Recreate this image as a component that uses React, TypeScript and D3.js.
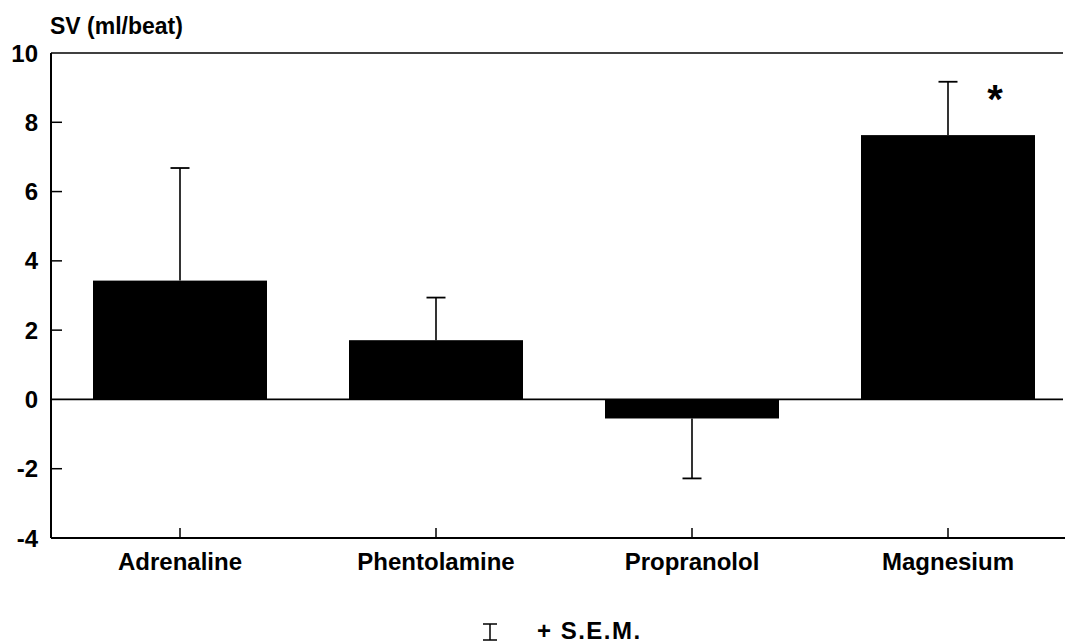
import React from "react";
import * as d3 from "d3";

const categories = ["Adrenaline", "Phentolamine", "Propranolol", "Magnesium"];
const means = [3.43, 1.71, -0.55, 7.63];
const sems = [3.25, 1.23, 1.73, 1.54];
const significant = [false, false, false, true];
const yTicks = [-4, -2, 0, 2, 4, 6, 8, 10];

const W = 1065;
const H = 643;
const FONT = "'Liberation Sans', Arial, Helvetica, sans-serif";

export default function App() {
  const y = d3.scaleLinear().domain([-4, 10]).range([538, 53]);
  const x = d3.scaleBand<string>().domain(categories).range([52, 1076]).padding(0);
  const bw = 174;
  const axisX = 51;
  const capW = 19;

  return (
    <svg
      width={W}
      height={H}
      style={{ position: "absolute", left: 0, top: 0, background: "#fff" }}
      fontFamily={FONT}
    >
      <rect x={0} y={0} width={W} height={H} fill="#fff" />
      {/* title */}
      <text x={50} y={34} fontSize={23} fontWeight="bold" fill="#000">
        SV (ml/beat)
      </text>
      {/* frame lines */}
      <line x1={axisX} x2={1063} y1={y(10)} y2={y(10)} stroke="#000" strokeWidth={1.5} />
      <line x1={axisX} x2={W} y1={y(-4)} y2={y(-4)} stroke="#000" strokeWidth={1.8} />
      <line x1={axisX} x2={axisX} y1={y(10)} y2={y(-4)} stroke="#000" strokeWidth={2} />
      {/* y ticks */}
      {yTicks.map((t) => (
        <g key={t}>
          {t !== 10 && t !== -4 && t !== 0 && (
            <line x1={axisX} x2={axisX + 11} y1={y(t)} y2={y(t)} stroke="#000" strokeWidth={1.5} />
          )}
          <text
            x={38}
            y={y(t)}
            dy="0.36em"
            textAnchor="end"
            fontSize={24}
            fontWeight="bold"
            fill="#000"
          >
            {t}
          </text>
        </g>
      ))}
      {/* bars */}
      {categories.map((c, i) => {
        const cx = (x(c) as number) + x.bandwidth() / 2;
        const v = means[i];
        const top = y(Math.max(0, v));
        const bot = y(Math.min(0, v));
        const ev = v >= 0 ? v + sems[i] : v - sems[i];
        return (
          <g key={c}>
            <rect x={cx - bw / 2} y={top} width={bw} height={bot - top} fill="#000" />
            <line x1={cx} x2={cx} y1={y(v)} y2={y(ev)} stroke="#000" strokeWidth={1.6} />
            <line x1={cx - capW / 2} x2={cx + capW / 2} y1={y(ev)} y2={y(ev)} stroke="#000" strokeWidth={1.8} />
            <line x1={cx} x2={cx} y1={y(-4)} y2={y(-4) - 10} stroke="#000" strokeWidth={1.5} />
            <text x={cx} y={570} textAnchor="middle" fontSize={24} fontWeight="bold" fill="#000">
              {c}
            </text>
            {significant[i] && (
              <text x={cx + 47} y={y(ev) + 31} textAnchor="middle" fontSize={40} fontWeight="bold" fill="#000">
                *
              </text>
            )}
          </g>
        );
      })}
      {/* zero line */}
      <line x1={axisX} x2={1063} y1={y(0)} y2={y(0)} stroke="#000" strokeWidth={1.8} />
      {/* legend */}
      <g stroke="#000" strokeWidth={1.5}>
        <line x1={490} x2={490} y1={624} y2={640} />
        <line x1={483} x2={497} y1={624} y2={624} />
        <line x1={483} x2={497} y1={640} y2={640} />
      </g>
      <text x={537} y={639} fontSize={24} fontWeight="bold" letterSpacing={1.5} fill="#000">
        + S.E.M.
      </text>
    </svg>
  );
}
